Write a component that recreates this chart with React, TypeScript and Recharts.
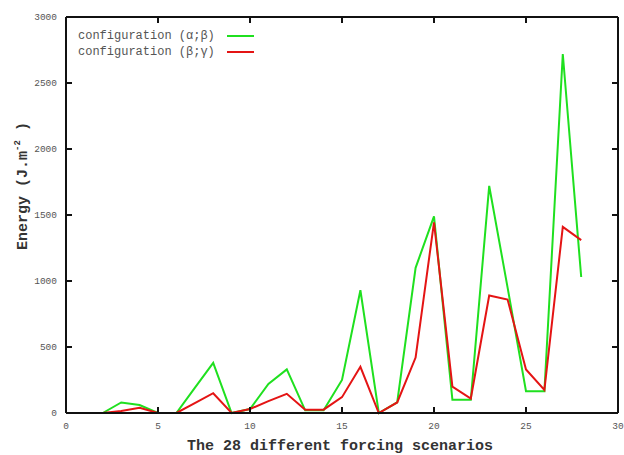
import * as React from "react";
import { Legend, Line, LineChart, XAxis, YAxis } from "recharts";

const SCENARIOS = [2, 3, 4, 5, 6, 7, 8, 9, 10, 11, 12, 13, 14, 15, 16, 17, 18, 19, 20, 21, 22, 23, 24, 25, 26, 27, 28];
const ALPHA_BETA = [0, 80, 60, 0, 0, 190, 380, 0, 30, 220, 330, 20, 20, 250, 930, 0, 80, 1100, 1490, 100, 100, 1720, 950, 165, 165, 2720, 1030];
const BETA_GAMMA = [0, 15, 40, 0, 0, 75, 150, 0, 30, 90, 145, 25, 25, 120, 350, 0, 80, 420, 1445, 200, 110, 890, 860, 330, 175, 1410, 1310];
const X_TICKS = [0, 5, 10, 15, 20, 25, 30];
const Y_TICKS = [0, 500, 1000, 1500, 2000, 2500, 3000];

// the red series is plotted on the mirrored (top/right) axes, same domains
const SERIES = [
  { key: "ab", name: "configuration (α;β)", color: "#1fe01f", xId: "bottom", yId: "left" },
  { key: "bg", name: "configuration (β;γ)", color: "#e41414", xId: "top", yId: "right" },
];

const data = SCENARIOS.map((s, i) => ({ s, ab: ALPHA_BETA[i], bg: BETA_GAMMA[i] }));

const MONO = '"Liberation Mono", "Courier New", monospace';
const TICK = { fill: "#555", fontSize: 9.5, fontFamily: MONO };
const FRAME = { stroke: "#111", strokeWidth: 2 };
const noTick = () => <g />;

function GnuLegend() {
  return (
    <div style={{ fontFamily: MONO, fontSize: 12, color: "#555", lineHeight: "16px" }}>
      {SERIES.map((s) => (
        <div key={s.key} style={{ display: "flex", alignItems: "center" }}>
          <span>{s.name}</span>
          <span style={{ display: "inline-block", width: 27, height: 2, background: s.color, marginLeft: 12 }} />
        </div>
      ))}
    </div>
  );
}

function XTitle() {
  return (
    <text x={340} y={450} textAnchor="middle" fontFamily={MONO} fontSize={15} fontWeight="bold" fill="#333">
      The 28 different forcing scenarios
    </text>
  );
}

function YTitle() {
  return (
    <text transform="translate(27,186) rotate(-90)" textAnchor="middle" fontFamily={MONO} fontSize={15} fontWeight="bold" fill="#333">
      Energy (J.m<tspan dy={-7} fontSize={9}>-2</tspan>
      <tspan dy={7}> )</tspan>
    </text>
  );
}

export default function App() {
  return (
    <div style={{ position: "absolute", left: 0, top: 0, background: "#fff" }}>
      <LineChart width={624} height={455} data={data} margin={{ top: 16, right: 5, bottom: 0, left: 0 }}>
        <XAxis
          xAxisId="bottom" dataKey="s" type="number" domain={[0, 30]} ticks={X_TICKS} height={42}
          axisLine={FRAME} tickLine={FRAME} tickSize={-6} tickMargin={15} tick={TICK}
          label={<XTitle />}
        />
        <XAxis
          xAxisId="top" dataKey="s" orientation="top" type="number" domain={[0, 30]} ticks={X_TICKS} height={1}
          axisLine={FRAME} tickLine={FRAME} tickSize={-6} tick={noTick}
        />
        <YAxis
          yAxisId="left" type="number" domain={[0, 3000]} ticks={Y_TICKS} width={66}
          axisLine={FRAME} tickLine={FRAME} tickSize={-6} tickMargin={15} tick={TICK}
          label={<YTitle />}
        />
        <YAxis
          yAxisId="right" orientation="right" type="number" domain={[0, 3000]} ticks={Y_TICKS} width={1}
          axisLine={FRAME} tickLine={FRAME} tickSize={-6} tick={noTick}
        />
        <Legend
          layout="horizontal" verticalAlign="middle" align="center" content={<GnuLegend />}
          wrapperStyle={{ top: 28, left: 78, width: 220 }}
        />
        {SERIES.map((s) => (
          <Line
            key={s.key} xAxisId={s.xId} yAxisId={s.yId} type="linear" dataKey={s.key} name={s.name}
            stroke={s.color} strokeWidth={2} dot={false} activeDot={false} isAnimationActive={false}
          />
        ))}
      </LineChart>
    </div>
  );
}
